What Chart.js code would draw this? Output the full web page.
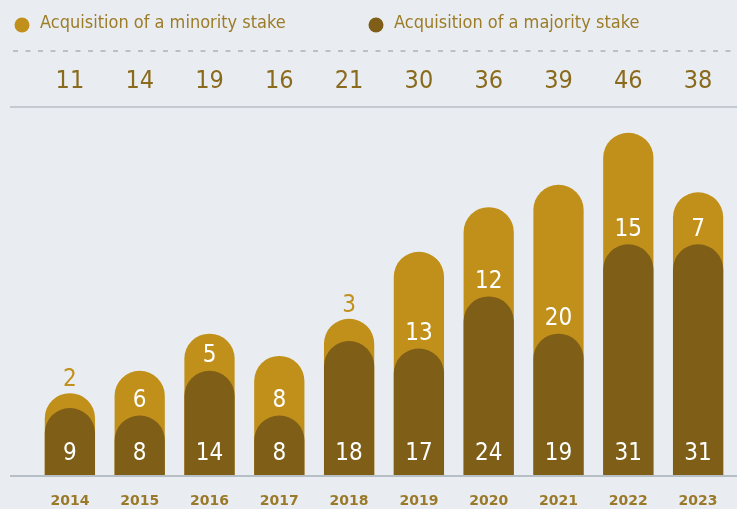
<!DOCTYPE html>
<html lang="en">
<head>
    <meta charset="UTF-8">
    <title>Acquisitions by year</title>
    <script src="https://cdn.jsdelivr.net/npm/chart.js"></script>
    <style>
        html, body {
            margin: 0;
            padding: 0;
            background-color: #e9edf1;
        }

        .wrap {
            position: relative;
            width: 737px;
            height: 509px;
        }
    </style>
</head>
<body>
    <div class="wrap">
        <canvas id="dealsChart"></canvas>
    </div>

    <script>
        // data
        const years = ['2014', '2015', '2016', '2017', '2018', '2019', '2020', '2021', '2022', '2023'];
        const minority = [2, 6, 5, 8, 3, 13, 12, 20, 15, 7];
        const majority = [9, 8, 14, 8, 18, 17, 24, 19, 31, 31];
        const totals = [11, 14, 19, 16, 21, 30, 36, 39, 46, 38];

        const GOLD = '#c1901a';
        const BROWN = '#7f5f17';
        const TEXT = '#8a6a1c';
        const FONT = "'DejaVu Sans', sans-serif";

        // legend, rules, totals row, baseline and value labels
        const decorations = {
            id: 'decorations',
            beforeDatasetsDraw(chart) {
                const ctx = chart.ctx;
                const area = chart.chartArea;
                ctx.save();
                ctx.strokeStyle = '#b6bec6';
                ctx.lineWidth = 2;
                // baseline
                ctx.beginPath();
                ctx.moveTo(10, area.bottom + 1);
                ctx.lineTo(chart.width, area.bottom + 1);
                ctx.stroke();
                // rule under the totals
                ctx.strokeStyle = '#c3cad1';
                ctx.beginPath();
                ctx.moveTo(10, 107);
                ctx.lineTo(chart.width, 107);
                ctx.stroke();
                ctx.restore();
            },
            afterDatasetsDraw(chart) {
                const ctx = chart.ctx;
                const dark = chart.getDatasetMeta(0).data;
                const full = chart.getDatasetMeta(1).data;
                ctx.save();

                // legend
                ctx.font = 'condensed 18px ' + FONT;
                ctx.textBaseline = 'middle';
                ctx.textAlign = 'left';
                const items = [
                    { text: chart.data.datasets[1].label, color: GOLD, x: 22 },
                    { text: chart.data.datasets[0].label, color: BROWN, x: 376 }
                ];
                items.forEach(it => {
                    ctx.fillStyle = it.color;
                    ctx.beginPath();
                    ctx.arc(it.x, 25, 7.5, 0, Math.PI * 2);
                    ctx.fill();
                    ctx.fillStyle = '#9c7c28';
                    ctx.fillText(it.text, it.x + 18, 23);
                });

                // dashed rule
                ctx.strokeStyle = '#aab1b9';
                ctx.lineWidth = 1.5;
                ctx.setLineDash([5, 7.5]);
                ctx.beginPath();
                ctx.moveTo(13, 51);
                ctx.lineTo(chart.width, 51);
                ctx.stroke();
                ctx.setLineDash([]);

                // totals row
                ctx.font = 'condensed 25px ' + FONT;
                ctx.textAlign = 'center';
                ctx.fillStyle = TEXT;
                totals.forEach((t, i) => {
                    ctx.fillText(String(t), full[i].x, 81);
                });

                // values inside the bars
                ctx.font = 'condensed 24px ' + FONT;
                majority.forEach((v, i) => {
                    ctx.fillStyle = '#ffffff';
                    ctx.fillText(String(v), dark[i].x, dark[i].base - 21);
                    if (minority[i] >= 4) {
                        ctx.fillText(String(minority[i]), full[i].x, dark[i].y - 15);
                    } else {
                        ctx.fillStyle = GOLD;
                        ctx.fillText(String(minority[i]), full[i].x, full[i].y - 13);
                    }
                });
                ctx.restore();
            }
        };

        const ctx = document.getElementById('dealsChart').getContext('2d');
        const dealsChart = new Chart(ctx, {
            type: 'bar',
            data: {
                labels: years,
                datasets: [{
                    label: 'Acquisition of a majority stake',
                    data: majority,
                    backgroundColor: BROWN,
                    borderRadius: { topLeft: 25, topRight: 25 },
                    order: 0
                }, {
                    label: 'Acquisition of a minority stake',
                    data: totals,
                    backgroundColor: GOLD,
                    borderRadius: { topLeft: 25, topRight: 25 },
                    order: 1
                }]
            },
            options: {
                responsive: true,
                maintainAspectRatio: false,
                animation: false,
                layout: {
                    padding: { top: 103, left: 35, right: 4, bottom: 0 }
                },
                datasets: {
                    bar: {
                        grouped: false,
                        categoryPercentage: 1,
                        barPercentage: 0.72
                    }
                },
                scales: {
                    x: {
                        grid: { display: false, drawTicks: false },
                        border: { display: false },
                        afterFit: (scale) => { scale.height = 34; },
                        ticks: {
                            padding: 18,
                            color: '#9a7a2a',
                            font: { family: FONT, size: 14, weight: 'bold', style: 'condensed' }
                        }
                    },
                    y: {
                        display: false,
                        beginAtZero: true,
                        max: 50
                    }
                },
                plugins: {
                    legend: { display: false },
                    tooltip: { enabled: false }
                }
            },
            plugins: [decorations]
        });
    </script>
</body>
</html>
